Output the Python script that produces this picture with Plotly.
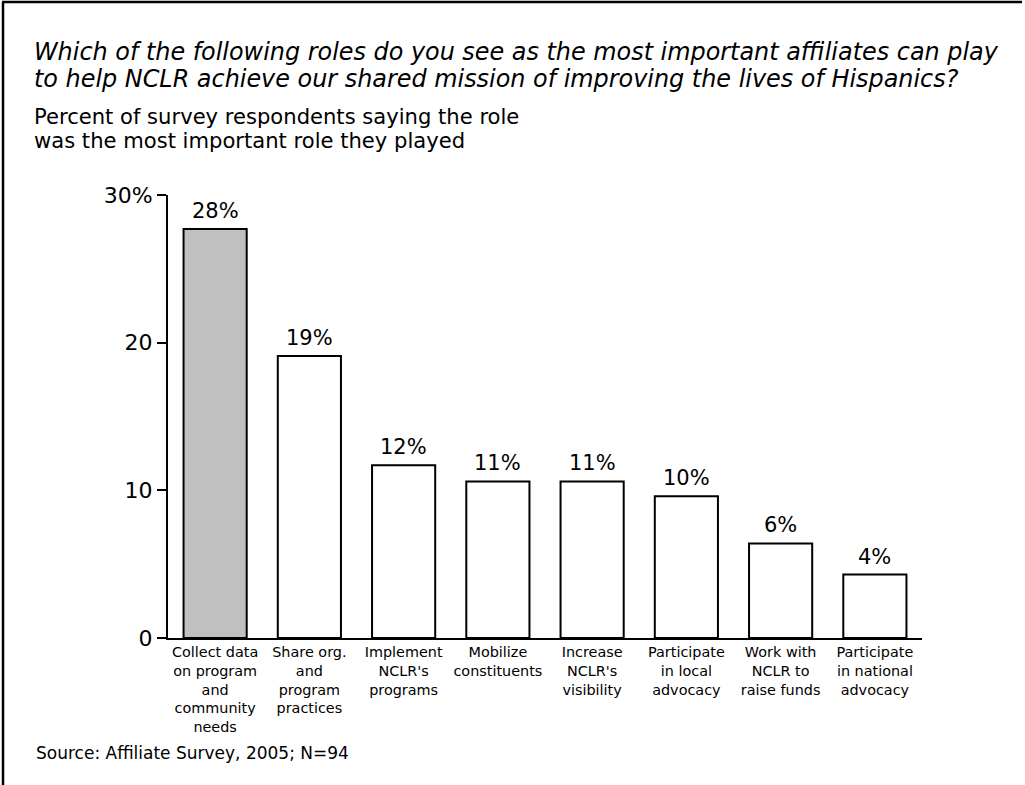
import plotly.graph_objects as go

categories = [
    "Collect data<br>on program<br>and<br>community<br>needs",
    "Share org.<br>and<br>program<br>practices",
    "Implement<br>NCLR's<br>programs",
    "Mobilize<br>constituents",
    "Increase<br>NCLR's<br>visibility",
    "Participate<br>in local<br>advocacy",
    "Work with<br>NCLR to<br>raise funds",
    "Participate<br>in national<br>advocacy",
]
values = [27.7, 19.1, 11.7, 10.6, 10.6, 9.6, 6.4, 4.3]
labels = ["28%", "19%", "12%", "11%", "11%", "10%", "6%", "4%"]
fills = ["#c0c0c0"] + ["#ffffff"] * 7

ytick_vals = [0, 10, 20, 30]
ytick_text = ["0", "10", "20", "30%"]

title_lines = [
    "Which of the following roles do you see as the most important affiliates can play",
    "to help NCLR achieve our shared mission of improving the lives of Hispanics?",
]
subtitle_lines = [
    "Percent of survey respondents saying the role",
    "was the most important role they played",
]
source_text = "Source: Affiliate Survey, 2005; N=94"

W, H = 1025, 785
L, R, T, B = 168, 103, 195, 147
PW, PH = W - L - R, H - T - B

def px_x(x):
    return (x - L) / PW

def px_y(y):
    return 1 - (y - T) / PH

FONT = "DejaVu Sans, Verdana, sans-serif"

fig = go.Figure()
fig.add_trace(go.Bar(
    x=list(range(len(categories))),
    y=values,
    marker=dict(color=fills, line=dict(color="black", width=2)),
    width=0.67,
    hoverinfo="skip",
))

for i, (v, t) in enumerate(zip(values, labels)):
    fig.add_annotation(x=i, y=v, text=t, showarrow=False, yanchor="bottom",
                       yshift=4, font=dict(size=21, color="black", family=FONT))

fig.update_layout(
    width=W, height=H,
    margin=dict(l=L, r=R, t=T, b=B),
    paper_bgcolor="white", plot_bgcolor="white",
    showlegend=False,
    font=dict(family=FONT, color="black"),
    xaxis=dict(
        range=[-0.5, 7.5],
        tickvals=list(range(len(categories))),
        ticktext=categories,
        tickfont=dict(size=14.4, family=FONT),
        showline=True, linecolor="black", linewidth=2,
        ticks="", showgrid=False, zeroline=False, fixedrange=True,
    ),
    yaxis=dict(
        range=[0, 30],
        tickvals=ytick_vals, ticktext=ytick_text,
        tickfont=dict(size=22, family=FONT),
        showline=True, linecolor="black", linewidth=2,
        ticks="outside", ticklen=9, tickwidth=2, tickcolor="black",
        showgrid=False, zeroline=False, fixedrange=True,
    ),
)

for line, yc in zip(title_lines, [52, 79]):
    fig.add_annotation(xref="paper", yref="paper", x=px_x(32), y=px_y(yc),
                       xanchor="left", yanchor="middle", showarrow=False,
                       text="<i>" + line + "</i>",
                       font=dict(size=23.9, family=FONT, color="black"))
for line, yc in zip(subtitle_lines, [117, 140]):
    fig.add_annotation(xref="paper", yref="paper", x=px_x(32), y=px_y(yc),
                       xanchor="left", yanchor="middle", showarrow=False,
                       text=line, font=dict(size=21.1, family=FONT, color="black"))
fig.add_annotation(xref="paper", yref="paper", x=px_x(34), y=px_y(753),
                   xanchor="left", yanchor="middle", showarrow=False,
                   text=source_text, font=dict(size=17, family=FONT, color="black"))

# frame lines
fig.add_shape(type="line", xref="paper", yref="paper",
              x0=px_x(2), x1=px_x(1022), y0=px_y(2), y1=px_y(2),
              line=dict(color="black", width=2.5))
fig.add_shape(type="line", xref="paper", yref="paper",
              x0=px_x(3), x1=px_x(3), y0=px_y(2), y1=px_y(790),
              line=dict(color="black", width=2.5))

fig.write_html("out.html")
